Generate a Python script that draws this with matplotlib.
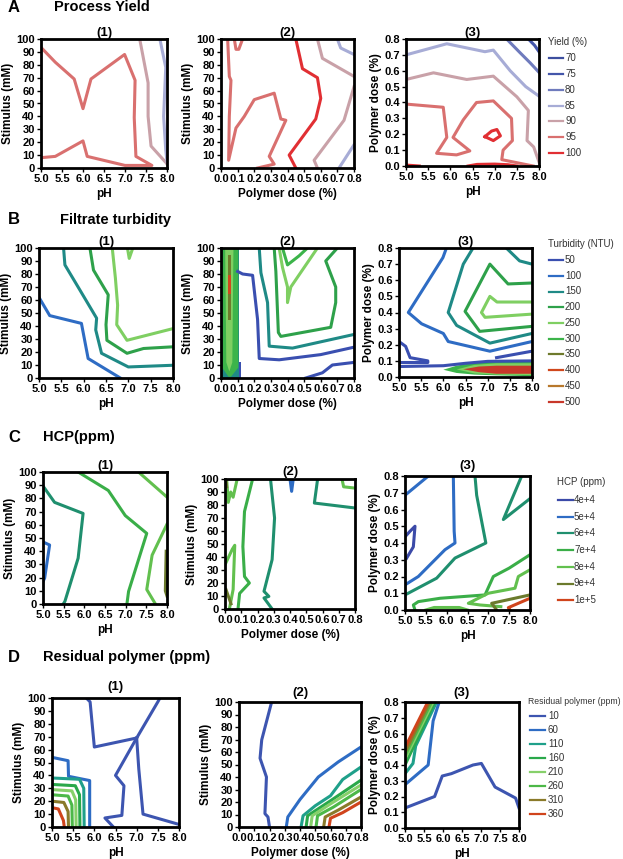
import matplotlib
matplotlib.use('Agg')
import matplotlib.pyplot as plt
from matplotlib.lines import Line2D

W, H = 623, 859
plt.rcParams['font.family'] = ['Liberation Sans', 'DejaVu Sans']
plt.rcParams['font.weight'] = 'bold'

# ---- axes ticks ----
ph_ticks = [5.0, 5.5, 6.0, 6.5, 7.0, 7.5, 8.0]
stim_ticks = [0, 10, 20, 30, 40, 50, 60, 70, 80, 90, 100]
dose_ticks = [0.0, 0.1, 0.2, 0.3, 0.4, 0.5, 0.6, 0.7, 0.8]

# ---- legend levels / colours ----
yield_levels = [70, 75, 80, 85, 90, 95, 100]
yield_colors = ['#3d4f9f', '#4456aa', '#6f7bbd', '#a7acd6', '#c9a1a8', '#d9706f', '#e12f33']

turb_levels = [50, 100, 150, 200, 250, 300, 350, 400, 450, 500]
turb_colors = ['#3a4fb0', '#2e6cc4', '#1f8a86', '#2ea14a', '#7fcf62', '#3cb44a',
               '#6e7a2c', '#d0471c', '#b8782c', '#c8372a']

hcp_levels = [4, 5, 6, 7, 8, 9, 10]
hcp_labels = ['4e+4', '5e+4', '6e+4', '7e+4', '8e+4', '9e+4', '1e+5']
hcp_colors = ['#3b4aa8', '#2e6cc4', '#1f8f6e', '#3aae48', '#62c04e', '#6b7a2c', '#d0441c']

res_levels = [10, 60, 110, 160, 210, 260, 310, 360]
res_colors = ['#3d55b0', '#2e6cc4', '#1fa08a', '#2aa84a', '#86d06a', '#4cb848', '#8a7a2a', '#d0441c']

# ---- contour lines: (level, x, y) ----
a1_lines = [
    (95, [5.0, 5.34, 5.79, 6.0, 6.19, 6.99, 7.24, 7.22, 7.26, 7.64, 7.0, 6.1, 6.0, 5.34, 5.0],
         [93.5, 82, 69, 46, 69, 88, 68, 39, 9, 2, 2, 9, 21, 9, 8]),
    (90, [7.35, 7.55, 7.55, 7.62, 7.98, 8.0], [100, 66, 40, 17, 4, 3]),
    (85, [7.83, 7.97, 7.92, 7.97, 8.0], [100, 78, 40, 14, 5]),
]
a2_lines = [
    (95, [0.04, 0.05, 0.06, 0.05, 0.046, 0.09, 0.14, 0.2, 0.32, 0.36, 0.39, 0.29, 0.32, 0.22],
         [100, 71, 68, 40, 6, 31, 40, 53, 58, 38, 37, 9, 3, 0]),
    (95, [0.08, 0.09, 0.107, 0.13], [100, 92, 92, 100]),
    (100, [0.45, 0.49, 0.58, 0.6, 0.57, 0.41, 0.45], [100, 77, 70, 54, 38, 10, 0]),
    (90, [0.58, 0.61, 0.8], [100, 85, 71]),
    (90, [0.8, 0.74, 0.56, 0.58], [63, 37, 6, 0]),
    (85, [0.70, 0.72, 0.8], [100, 93, 88]),
    (85, [0.8, 0.71], [18, 0]),
]
a3_lines = [
    (75, [7.76, 7.9, 8.0], [0.8, 0.76, 0.72]),
    (80, [7.27, 7.55, 7.8, 8.0], [0.8, 0.72, 0.65, 0.59]),
    (85, [5.0, 5.92, 6.78, 6.97, 7.35, 7.7, 8.0], [0.70, 0.77, 0.72, 0.73, 0.60, 0.50, 0.44]),
    (90, [5.0, 5.62, 6.37, 6.97, 7.5, 7.76, 7.73, 7.88, 8.0],
         [0.545, 0.587, 0.545, 0.566, 0.436, 0.35, 0.16, 0.12, 0.025]),
    (95, [5.0, 5.84, 5.92, 5.69, 6.14, 6.44, 6.06, 6.29, 6.59, 6.97, 7.38, 7.4, 7.19, 7.16, 7.87],
         [0.39, 0.37, 0.18, 0.08, 0.07, 0.095, 0.18, 0.29, 0.40, 0.41, 0.30, 0.16, 0.10, 0.04, 0.0]),
    (100, [6.78, 6.93, 7.05, 7.13, 6.97, 6.78], [0.185, 0.22, 0.23, 0.19, 0.16, 0.185]),
    (100, [5.0, 5.3], [0.006, 0.0]),
    (100, [6.4, 6.6, 7.0, 7.3, 7.5], [0.0, 0.01, 0.012, 0.008, 0.0]),
]

b1_lines = [
    (100, [5.0, 5.24, 5.95, 6.1, 6.82], [62, 48, 42, 15, 0]),
    (150, [5.55, 5.58, 5.91, 6.29, 6.27, 6.4, 7.0, 8.0], [100, 87, 68, 46, 37, 19, 8.5, 9.8]),
    (200, [6.14, 6.22, 6.55, 6.5, 6.52, 6.97, 7.34, 8.0], [100, 83, 64, 41, 29, 19, 22.7, 24]),
    (250, [6.64, 6.71, 6.76, 6.74, 6.97, 8.0], [100, 77, 56, 41, 29, 38]),
    (250, [6.98, 7.02, 7.1], [100, 92, 100]),
]
b2_lines = [
    (50, [0.1, 0.13, 0.19, 0.22, 0.23, 0.35, 0.6, 0.8], [82, 80, 79, 45, 15, 14, 18, 23.7]),
    (50, [0.51, 0.61, 0.67, 0.8], [0, 4, 10, 12]),
    (150, [0.23, 0.24, 0.28, 0.29, 0.43, 0.8], [100, 81, 58, 24.5, 23, 33.5]),
    (200, [0.32, 0.33, 0.345, 0.36, 0.66, 0.69, 0.69, 0.63, 0.70], [100, 82, 35, 32, 39, 58, 70, 90, 100]),
    (250, [0.35, 0.37, 0.40, 0.40, 0.42, 0.50, 0.58], [100, 85, 70, 58, 70, 85, 100]),
    (300, [0.37, 0.40, 0.47, 0.52], [100, 87, 94, 100]),
]
# filled band near zero dose (level, x polygon, y polygon)
b2_fills = [
    (50, [0.0, 0.12, 0.12, 0.0], [0, 0, 12, 12]),
    (150, [0.002, 0.11, 0.11, 0.002], [0, 0, 100, 100]),
    (300, [0.007, 0.104, 0.104, 0.06, 0.045, 0.007], [100, 100, 8, 1, 1, 8]),
    (250, [0.025, 0.075, 0.068, 0.05, 0.032], [100, 100, 12, 5, 12]),
    (350, [0.04, 0.06, 0.06, 0.04], [45, 45, 95, 95]),
    (400, [0.043, 0.058, 0.058, 0.043], [65, 65, 79, 79]),
]
b3_lines = [
    (50, [5.0, 5.15, 5.25, 5.65, 5.65, 5.0], [0.22, 0.19, 0.12, 0.10, 0.09, 0.09]),
    (50, [5.0, 6.0, 6.5, 7.0, 8.0], [0.065, 0.07, 0.085, 0.097, 0.10]),
    (50, [7.2, 7.6, 8.0], [0.12, 0.14, 0.16]),
    (100, [6.07, 5.99, 5.21, 5.51, 6.0, 6.11, 7.05, 8.0], [0.8, 0.74, 0.4, 0.33, 0.27, 0.22, 0.16, 0.22]),
    (150, [6.67, 6.45, 6.11, 6.3, 7.05, 8.0], [0.8, 0.70, 0.40, 0.32, 0.21, 0.27]),
    (150, [7.42, 7.72, 8.0], [0.8, 0.72, 0.70]),
    (200, [8.0, 7.46, 7.05, 6.49, 6.82, 8.0], [0.583, 0.577, 0.70, 0.407, 0.283, 0.314]),
    (250, [8.0, 7.21, 7.05, 6.86, 6.94, 8.0], [0.465, 0.465, 0.50, 0.40, 0.37, 0.39]),
]
b3_fills = [
    (300, [6.0, 6.3, 6.7, 7.2, 8.0, 8.0, 7.2, 6.7, 6.3, 6.0],
          [0.045, 0.07, 0.09, 0.097, 0.10, 0.005, 0.01, 0.015, 0.025, 0.045]),
    (250, [6.3, 6.7, 7.2, 8.0, 8.0, 7.2, 6.7, 6.3], [0.047, 0.075, 0.085, 0.085, 0.012, 0.015, 0.022, 0.047]),
    (500, [6.45, 6.8, 7.2, 8.0, 8.0, 7.2, 6.8, 6.45], [0.048, 0.065, 0.07, 0.07, 0.02, 0.02, 0.03, 0.048]),
]

c1_lines = [
    (5, [5.0, 5.16, 5.04, 5.0], [47, 44.7, 19.6, 17]),
    (6, [5.0, 5.28, 5.97, 5.85, 5.53, 5.49], [89.4, 77, 68.6, 34.7, 2, 0]),
    (7, [5.85, 6.58, 6.99, 7.51, 7.07, 7.03], [100, 86, 67, 53.5, 9.5, 0]),
    (8, [7.31, 8.0], [100, 81]),
    (8, [8.0, 7.64, 7.51, 7.72], [60.5, 37, 11, 0]),
    (9, [7.98, 7.96, 8.0], [40, 10, 6]),
]
c2_lines = [
    (6, [0.28, 0.305, 0.29, 0.24, 0.27, 0.24, 0.29], [100, 70, 38, 13.6, 9.7, 8.5, 0]),
    (6, [0.57, 0.55, 0.8], [100, 81.5, 77.7]),
    (5, [0.4, 0.41, 0.42], [100, 90.5, 100]),
    (7, [0.17, 0.12, 0.11, 0.12, 0.15, 0.09, 0.08], [100, 75, 48, 25, 20, 12, 0]),
    (8, [0.0, 0.045, 0.06, 0.05, 0.027], [34, 46, 49, 15, 0]),
    (8, [0.075, 0.05, 0.035, 0.02, 0.01], [100, 86, 90, 82, 100]),
    (8, [0.72, 0.73, 0.8], [100, 94, 93]),
    (9, [0.005, 0.01], [100, 94]),
    (9, [0.006, 0.037], [15, 4]),
]
c3_lines = [
    (4, [5.0, 5.12, 5.24, 5.2, 5.04], [0.437, 0.47, 0.50, 0.377, 0.31]),
    (5, [5.0, 5.56], [0.685, 0.8]),
    (5, [6.16, 6.18, 6.2, 5.96, 5.32, 5.0], [0.8, 0.47, 0.4, 0.36, 0.2, 0.15]),
    (6, [6.68, 6.72, 6.94, 6.2, 5.76, 5.0], [0.8, 0.685, 0.4, 0.31, 0.19, 0.09]),
    (6, [7.8, 7.36, 8.0], [0.8, 0.54, 0.665]),
    (7, [8.0, 7.5, 7.12, 6.92, 5.84, 5.32, 5.2, 5.24], [0.33, 0.25, 0.2, 0.09, 0.07, 0.05, 0.03, 0.0]),
    (8, [8.0, 7.72, 7.64, 7.0, 6.52, 6.8, 7.3], [0.24, 0.2, 0.13, 0.1, 0.04, 0.03, 0.02]),
    (8, [5.5, 5.7, 6.3, 6.5], [0.0, 0.015, 0.015, 0.0]),
    (9, [8.0, 7.08, 7.2], [0.09, 0.04, 0.0]),
    (10, [8.0, 7.72, 7.48, 7.52], [0.07, 0.04, 0.014, 0.0]),
]

d1_lines = [
    (10, [5.81, 5.9, 6.0, 7.0, 7.5, 7.55], [100, 97, 62, 69, 97, 100]),
    (10, [7.0, 7.05, 7.15, 8.0], [69, 45, 10, 2]),
    (10, [7.0, 6.5, 6.7, 6.65, 6.25, 6.45], [69, 40, 32, 9, 7, 0]),
    (60, [5.0, 5.38, 5.39, 5.89, 5.89], [54, 51.4, 39.3, 36, 0]),
    (110, [5.0, 5.65, 5.75, 5.76], [38, 37, 30, 0]),
    (160, [5.0, 5.55, 5.65, 5.66], [33, 32, 25, 0]),
    (210, [5.0, 5.47, 5.56, 5.57], [29, 28, 21, 0]),
    (260, [5.0, 5.38, 5.47, 5.48], [25, 24, 17, 0]),
    (310, [5.0, 5.28, 5.38, 5.39], [20, 19, 12, 0]),
    (360, [5.0, 5.15, 5.27, 5.29], [15, 14, 5, 0]),
]
d2_lines = [
    (10, [0.214, 0.149, 0.138, 0.18, 0.17, 0.19, 0.2], [100, 69.7, 55, 40, 10.7, 8, 0]),
    (60, [0.31, 0.32, 0.4, 0.52, 0.65, 0.8], [0, 8, 22, 40, 52, 64]),
    (110, [0.407, 0.42, 0.5, 0.6, 0.68, 0.8], [0, 9, 17, 25, 38, 48]),
    (160, [0.44, 0.45, 0.6, 0.8], [0, 9, 21, 37.5]),
    (210, [0.47, 0.48, 0.6, 0.8], [0, 9, 18.5, 33.6]),
    (260, [0.505, 0.515, 0.62, 0.8], [0, 9, 16, 30]),
    (310, [0.555, 0.565, 0.65, 0.8], [0, 8, 13.5, 24]),
    (360, [0.59, 0.6, 0.68, 0.8], [0, 7, 11.5, 20]),
]
d3_lines = [
    (10, [5.0, 5.78, 5.98, 6.22, 6.79, 7.01, 7.37, 7.91, 8.0],
         [0.127, 0.2, 0.33, 0.345, 0.40, 0.41, 0.26, 0.19, 0.127]),
    (60, [5.0, 5.61, 5.74, 5.9], [0.275, 0.40, 0.68, 0.8]),
    (110, [5.0, 5.21, 5.28, 5.83], [0.345, 0.41, 0.52, 0.8]),
    (160, [5.0, 5.78], [0.40, 0.8]),
    (210, [5.0, 5.74], [0.44, 0.8]),
    (260, [5.0, 5.70], [0.46, 0.8]),
    (310, [5.0, 5.65], [0.48, 0.8]),
    (360, [5.0, 5.60], [0.51, 0.8]),
]

fig = plt.figure(figsize=(W / 100, H / 100), dpi=100)


def rect(x0, y0, x1, y1):
    return [x0 / W, 1 - y1 / H, (x1 - x0) / W, (y1 - y0) / H]


def ftext(x, y, s, **kw):
    fig.text(x / W, 1 - y / H, s, **kw)


def panel(box, lines, cmap, xkind, ykind, sub, pad, fills=()):
    ax = fig.add_axes(rect(*box))
    for lev, xs, ys in fills:
        ax.fill(xs, ys, color=cmap[lev], lw=0)
    for lev, xs, ys in lines:
        ax.plot(xs, ys, color=cmap[lev], lw=2.2)
    ticks = {'ph': ph_ticks, 'stim': stim_ticks, 'dose': dose_ticks}
    names = {'ph': 'pH', 'stim': 'Stimulus (mM)', 'dose': 'Polymer dose (%)'}
    ax.set_xlim(ticks[xkind][0], ticks[xkind][-1])
    ax.set_ylim(ticks[ykind][0], ticks[ykind][-1])
    ax.set_xticks(ticks[xkind])
    ax.set_yticks(ticks[ykind])
    fmt = lambda kind: [str(t) if kind == 'stim' else '%.1f' % t for t in ticks[kind]]
    ax.set_xticklabels(fmt(xkind), fontweight='bold')
    ax.set_yticklabels(fmt(ykind), fontweight='bold')
    ax.tick_params(length=3, width=1, pad=1.5, labelsize=8)
    for s in ax.spines.values():
        s.set_linewidth(2)
    ax.set_xlabel(names[xkind], fontsize=8.5, fontweight='bold', labelpad=3)
    ax.set_ylabel(names[ykind], fontsize=8.5, fontweight='bold', labelpad=1.5)
    ax.set_title(sub, fontsize=9.5, fontweight='bold', pad=pad)
    return ax


def legend(title, labels, colors, x, ytitle, y0, dy, lx0, lx1, tx, tsize=7):
    ftext(x, ytitle, title, fontsize=tsize, fontweight='normal', color='#333333', va='center')
    for i, (lab, col) in enumerate(zip(labels, colors)):
        y = 1 - (y0 + i * dy) / H
        fig.add_artist(Line2D([lx0 / W, lx1 / W], [y, y], transform=fig.transFigure, color=col, lw=1.6))
        ftext(tx, y0 + i * dy, lab, fontsize=7, fontweight='normal', color='#333333', va='center')


ymap = dict(zip(yield_levels, yield_colors))
tmap = dict(zip(turb_levels, turb_colors))
hmap = dict(zip(hcp_levels, hcp_colors))
rmap = dict(zip(res_levels, res_colors))

# row A
ftext(8, 8, 'A', fontsize=12, fontweight='bold', va='center')
ftext(54, 7, 'Process Yield', fontsize=10.5, fontweight='bold', va='center')
panel((41, 39, 167, 168), a1_lines, ymap, 'ph', 'stim', '(1)', 1)
panel((221, 39, 354, 168), a2_lines, ymap, 'dose', 'stim', '(2)', 1)
panel((406, 39, 539, 166), a3_lines, ymap, 'ph', 'dose', '(3)', 1)
legend('Yield (%)', [str(v) for v in yield_levels], yield_colors, 548, 42, 58, 15.85, 549, 563, 565)

# row B
ftext(8, 220, 'B', fontsize=12, fontweight='bold', va='center')
ftext(60, 220, 'Filtrate turbidity', fontsize=10.5, fontweight='bold', va='center')
panel((39, 248, 173, 378), b1_lines, tmap, 'ph', 'stim', '(1)', 1)
panel((221, 248, 354, 378), b2_lines, tmap, 'dose', 'stim', '(2)', 1, b2_fills)
panel((399, 248, 532, 377), b3_lines, tmap, 'ph', 'dose', '(3)', 1, b3_fills)
legend('Turbidity (NTU)', [str(v) for v in turb_levels], turb_colors, 548, 244, 260, 15.75, 549, 563, 565)

# row C
ftext(8, 437, 'C', fontsize=12, fontweight='bold', va='center')
ftext(43, 437, 'HCP(ppm)', fontsize=10.5, fontweight='bold', va='center')
panel((43, 472, 167, 604), c1_lines, hmap, 'ph', 'stim', '(1)', 2)
panel((225, 479, 355, 609), c2_lines, hmap, 'dose', 'stim', '(2)', 3)
panel((405, 476, 530, 610), c3_lines, hmap, 'ph', 'dose', '(3)', 5)
legend('HCP (ppm)', hcp_labels, hcp_colors, 557, 482, 500, 16.7, 558, 573, 574)

# row D
ftext(8, 657, 'D', fontsize=12, fontweight='bold', va='center')
ftext(43, 657, 'Residual polymer (ppm)', fontsize=10.5, fontweight='bold', va='center')
panel((52, 698, 179, 827), d1_lines, rmap, 'ph', 'stim', '(1)', 6)
panel((239, 702, 361, 827), d2_lines, rmap, 'dose', 'stim', '(2)', 4)
panel((405, 702, 519, 828), d3_lines, rmap, 'ph', 'dose', '(3)', 4)
legend('Residual polymer (ppm)', [str(v) for v in res_levels], res_colors, 528, 702, 716, 14, 530, 545, 548,
       tsize=6.2)

fig.savefig('out.png', dpi=100)
